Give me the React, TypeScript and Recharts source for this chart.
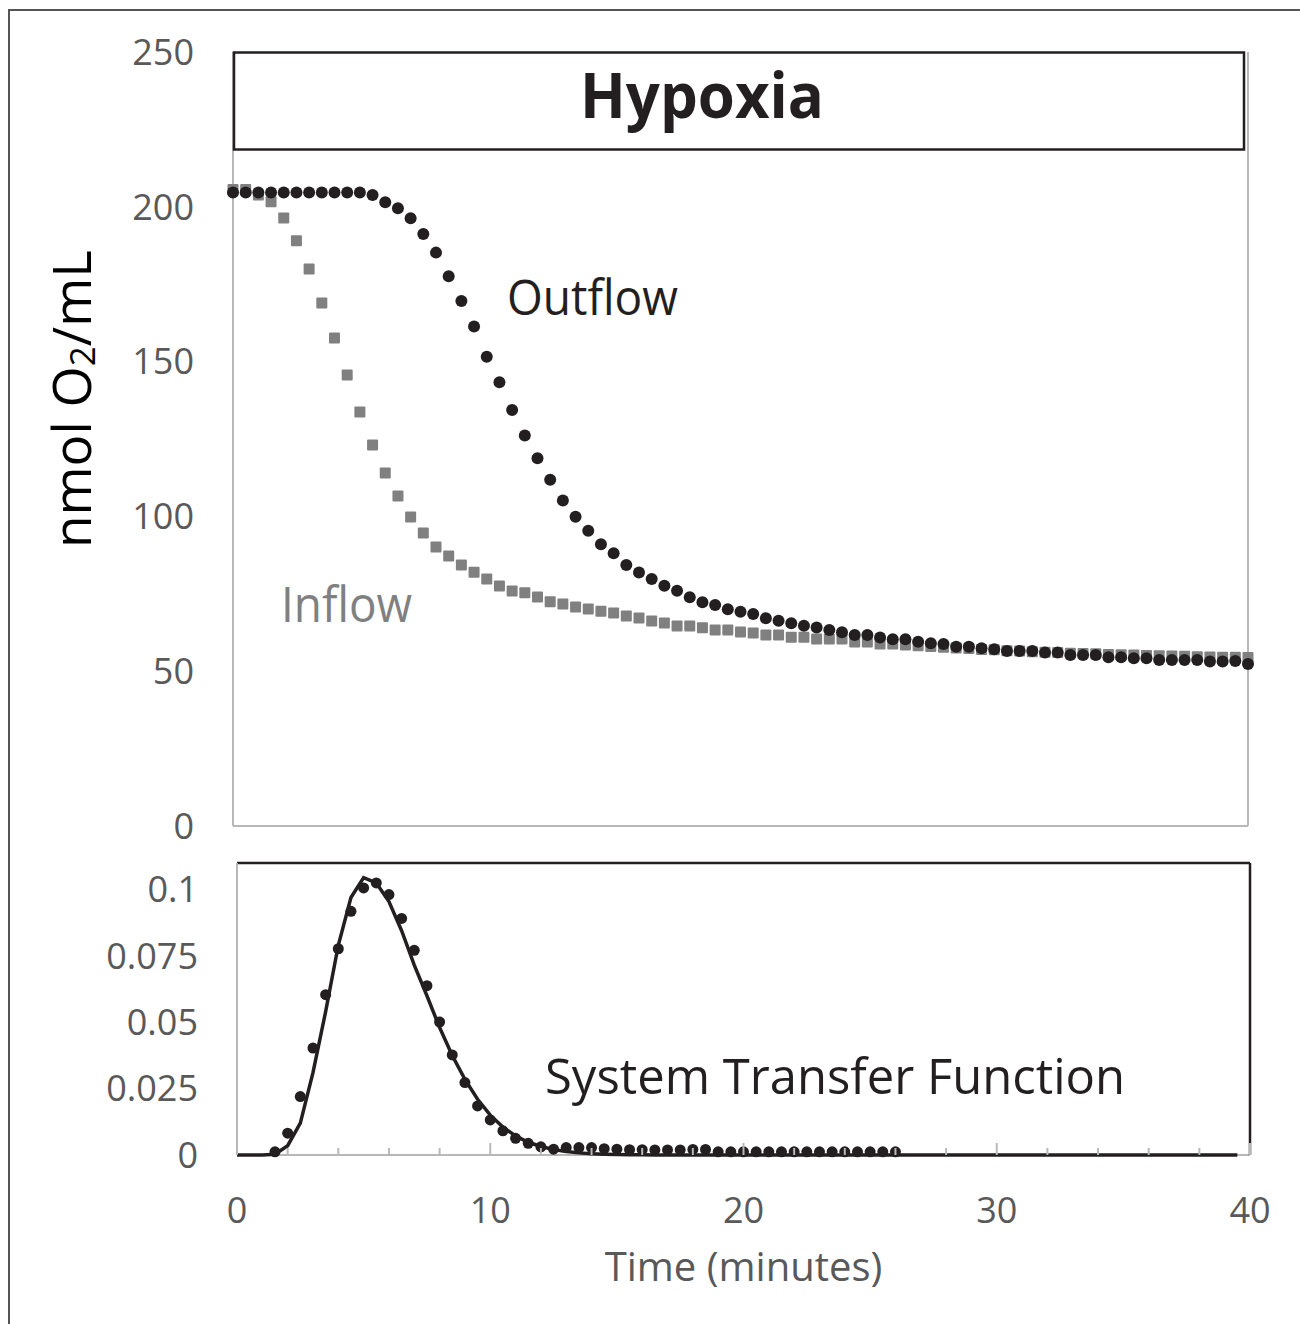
import React from 'react';
import { ComposedChart, Scatter, Line, XAxis, YAxis, ReferenceLine, Label } from 'recharts';

// sampling grid, minutes
const TIMES = [
  0, 0.5, 1, 1.5, 2, 2.5, 3, 3.5, 4, 4.5, 5, 5.5, 6, 6.5, 7, 7.5, 8, 8.5, 9, 9.5,
  10, 10.5, 11, 11.5, 12, 12.5, 13, 13.5, 14, 14.5, 15, 15.5, 16, 16.5, 17, 17.5, 18, 18.5, 19, 19.5,
  20, 20.5, 21, 21.5, 22, 22.5, 23, 23.5, 24, 24.5, 25, 25.5, 26, 26.5, 27, 27.5, 28, 28.5, 29, 29.5,
  30, 30.5, 31, 31.5, 32, 32.5, 33, 33.5, 34, 34.5, 35, 35.5, 36, 36.5, 37, 37.5, 38, 38.5, 39, 39.5, 40,
];

// nmol O2/mL
const INFLOW = [
  205.6, 205.6, 203.8, 201.6, 196.4, 189.0, 179.9, 168.9, 157.6, 145.7,
  133.7, 123.1, 114.0, 106.6, 99.8, 94.6, 90.1, 87.2, 84.3, 82.0,
  79.8, 77.5, 75.9, 75.3, 74.0, 72.4, 71.7, 70.7, 70.1, 69.4,
  68.8, 67.8, 67.2, 66.2, 65.6, 64.6, 64.6, 64.0, 63.3, 63.3,
  62.7, 62.3, 61.7, 61.7, 61.0, 61.0, 60.4, 60.4, 60.4, 59.4,
  59.4, 58.8, 58.8, 58.5, 58.2, 58.0, 57.7, 57.5, 57.3, 57.0,
  56.9, 56.6, 56.5, 56.3, 56.1, 56.0, 55.8, 55.7, 55.6, 55.4,
  55.3, 55.2, 55.1, 55.0, 54.9, 54.8, 54.7, 54.6, 54.5, 54.5, 54.4,
];

const OUTFLOW = [
  204.6, 204.6, 204.6, 204.6, 204.6, 204.6, 204.6, 204.6, 204.6, 204.6,
  204.6, 203.8, 201.5, 199.5, 196.3, 191.2, 185.2, 177.6, 169.6, 161.3,
  151.6, 143.3, 134.4, 126.1, 118.8, 111.8, 105.1, 99.9, 95.4, 91.0,
  88.1, 84.3, 81.9, 79.8, 77.6, 76.0, 73.9, 72.3, 71.4, 70.0,
  69.2, 68.5, 67.1, 66.3, 65.5, 64.7, 64.1, 63.3, 62.6, 61.7,
  61.7, 60.9, 60.3, 60.3, 59.5, 59.0, 58.8, 57.9, 57.9, 57.4,
  57.1, 56.5, 56.5, 56.5, 56.0, 56.0, 55.2, 55.2, 55.2, 54.5,
  54.5, 54.2, 54.2, 53.6, 53.6, 53.6, 53.6, 53.1, 53.1, 53.3, 52.3,
];

// system transfer function, measured points
const STF_TIMES = [
  1.5, 2, 2.5, 3, 3.5, 4, 4.5, 5, 5.5, 6, 6.5, 7, 7.5, 8, 8.5, 9, 9.5, 10, 10.5, 11,
  11.5, 12, 12.5, 13, 13.5, 14, 14.5, 15, 15.5, 16, 16.5, 17, 17.5, 18, 18.5, 19, 19.5, 20,
  20.5, 21, 21.5, 22, 22.5, 23, 23.5, 24, 24.5, 25, 25.5, 26,
];
const STF_MEASURED = [
  0.0012, 0.0082, 0.022, 0.0403, 0.0604, 0.0777, 0.0918, 0.1006, 0.1025, 0.0981,
  0.0891, 0.0771, 0.0638, 0.0501, 0.0377, 0.0273, 0.0185, 0.0132, 0.0091, 0.0063,
  0.0044, 0.0031, 0.0022, 0.0028, 0.0028, 0.0028, 0.0024, 0.0022, 0.002, 0.002,
  0.0019, 0.0019, 0.0019, 0.0021, 0.0021, 0.0012, 0.0012, 0.0012, 0.0012, 0.0012,
  0.0012, 0.0012, 0.0012, 0.0012, 0.0012, 0.0012, 0.0012, 0.0012, 0.0012, 0.0012,
];
// fitted curve, 0 .. 39.5 min
const STF_FIT = [
  0, 0, 0, 0.0003, 0.0035, 0.012, 0.031, 0.054, 0.079, 0.097,
  0.1045, 0.1025, 0.0955, 0.0845, 0.0715, 0.06, 0.048, 0.0375, 0.0285, 0.021,
  0.015, 0.0105, 0.0072, 0.0048, 0.0032, 0.0021, 0.0013, 0.0008, 0.0005, 0.0003,
  0.0002, 0.0001, 0.0001, 0, 0, 0, 0, 0, 0, 0,
  0, 0, 0, 0, 0, 0, 0, 0, 0, 0,
  0, 0, 0, 0, 0, 0, 0, 0, 0, 0,
  0, 0, 0, 0, 0, 0, 0, 0, 0, 0,
  0, 0, 0, 0, 0, 0, 0, 0, 0, 0,
];

const FLOW_TICKS = [0, 50, 100, 150, 200, 250];
const STF_TICKS = [0, 0.025, 0.05, 0.075, 0.1];
const TIME_TICKS = [0, 2, 4, 6, 8, 10, 12, 14, 16, 18, 20, 22, 24, 26, 28, 30, 32, 34, 36, 38, 40];

const FONT = "'Open Sans', sans-serif";
const INK = '#231f20';
const GREY = '#808080';
const AXIS = '#b8b8b8';
const TICK_TXT = '#595959';

const flowData = TIMES.map((t, i) => ({ t, inflow: INFLOW[i], outflow: OUTFLOW[i] }));
const measuredData = STF_TIMES.map((t, i) => ({ t, v: STF_MEASURED[i] }));
const fitData = STF_FIT.map((v, i) => ({ t: TIMES[i], v }));

const SquareMark = (p: any) => (
  <rect x={p.cx - 5.5} y={p.cy - 5.5} width={11} height={11} rx={1} fill={GREY} />
);
const DotMark = (p: any) => <circle cx={p.cx} cy={p.cy} r={6} fill={INK} />;
const SmallDot = (p: any) => <circle cx={p.cx} cy={p.cy} r={5.5} fill={INK} />;

// ticks point up into the plot, every 2 min, longer + labelled every 10
const TimeTick = (p: any) => {
  const v = p.payload.value;
  const major = v % 10 === 0;
  return (
    <g>
      <line x1={p.x} x2={p.x} y1={p.y} y2={p.y - (major ? 12 : 7)} stroke={AXIS} strokeWidth={2} />
      {major && (
        <text x={p.x} y={p.y + 68} textAnchor="middle" fill={TICK_TXT} fontSize={36} fontFamily={FONT}>
          {v}
        </text>
      )}
    </g>
  );
};

export default function App() {
  return (
    <div
      style={{
        position: 'absolute',
        left: 0,
        top: 0,
        width: 1300,
        height: 1324,
        overflow: 'hidden',
        background: '#fff',
        fontFamily: FONT,
      }}
    >
      {/* upper panel: inflow / outflow */}
      <div style={{ position: 'absolute', left: 0, top: 0 }}>
        <ComposedChart width={1300} height={1324} data={flowData} margin={{ top: 52, right: 52, bottom: 497, left: 0 }}>
          <XAxis
            dataKey="t"
            type="number"
            domain={[0, 40]}
            ticks={[0, 40]}
            tick={false}
            tickLine={false}
            height={1}
            axisLine={{ stroke: AXIS, strokeWidth: 2 }}
          />
          <YAxis
            type="number"
            domain={[0, 250]}
            ticks={FLOW_TICKS}
            width={233}
            tickLine={false}
            tickSize={0}
            tickMargin={39}
            axisLine={{ stroke: AXIS, strokeWidth: 2 }}
            tick={{ fill: TICK_TXT, fontSize: 36, fontFamily: FONT }}
          />
          <ReferenceLine x={40} stroke={AXIS} strokeWidth={2} />
          <Scatter dataKey="inflow" shape={SquareMark} isAnimationActive={false} />
          <Scatter dataKey="outflow" shape={DotMark} isAnimationActive={false} />
        </ComposedChart>
      </div>

      {/* lower panel: system transfer function */}
      <div style={{ position: 'absolute', left: 0, top: 0 }}>
        <ComposedChart width={1300} height={1324} margin={{ top: 863, right: 50, bottom: 168, left: 0 }}>
          <XAxis
            dataKey="t"
            type="number"
            domain={[0, 40]}
            ticks={TIME_TICKS}
            interval={0}
            height={1}
            tickLine={false}
            tickSize={0}
            tickMargin={0}
            axisLine={false}
            tick={TimeTick}
          >
            <Label value="Time (minutes)" position="bottom" offset={97} fill={TICK_TXT} fontSize={40} fontFamily={FONT} />
          </XAxis>
          <YAxis
            type="number"
            domain={[0, 0.11]}
            ticks={STF_TICKS}
            width={237}
            tickLine={false}
            tickSize={0}
            tickMargin={39}
            axisLine={{ stroke: AXIS, strokeWidth: 2 }}
            tick={{ fill: TICK_TXT, fontSize: 36, fontFamily: FONT }}
          />
          <ReferenceLine y={0} stroke={AXIS} strokeWidth={2} />
          <ReferenceLine y={0.11} stroke={INK} strokeWidth={2.5} />
          <ReferenceLine x={40} stroke={INK} strokeWidth={2.5} />
          <Line
            data={fitData}
            dataKey="v"
            type="linear"
            stroke={INK}
            strokeWidth={3.5}
            dot={false}
            activeDot={false}
            isAnimationActive={false}
            zIndex={550}
          />
          <Scatter data={measuredData} dataKey="v" shape={SmallDot} isAnimationActive={false} />
        </ComposedChart>
      </div>

      {/* frame, title box and annotations */}
      <svg
        width={1300}
        height={1324}
        style={{ position: 'absolute', left: 0, top: 0, pointerEvents: 'none' }}
      >
        <rect x={9} y={10} width={1400} height={1400} fill="none" stroke="#555" strokeWidth={2} />
        <rect x={234} y={52.5} width={1010} height={97} fill="#fff" stroke={INK} strokeWidth={2.5} />
        <text
          x={702}
          y={118}
          textAnchor="middle"
          fontSize={62}
          fontWeight="bold"
          fill={INK}
          fontFamily={FONT}
          textLength={244}
          lengthAdjust="spacingAndGlyphs"
        >
          Hypoxia
        </text>
        <text
          transform="rotate(-90, 70, 399)"
          x={70}
          y={399}
          textAnchor="middle"
          dominantBaseline="central"
          fontSize={53}
          fill="#000"
          fontFamily={FONT}
        >
          nmol O
          <tspan dy={11} fontSize={35}>
            2
          </tspan>
          <tspan dy={-11}>/mL</tspan>
        </text>
        <text x={507} y={315} fontSize={50} fill={INK} fontFamily={FONT} textLength={171} lengthAdjust="spacingAndGlyphs">
          Outflow
        </text>
        <text x={281} y={622} fontSize={50} fill={GREY} fontFamily={FONT} textLength={131} lengthAdjust="spacingAndGlyphs">
          Inflow
        </text>
        <text x={545} y={1094} fontSize={50} fill={INK} fontFamily={FONT} textLength={580} lengthAdjust="spacingAndGlyphs">
          System Transfer Function
        </text>
      </svg>
    </div>
  );
}
